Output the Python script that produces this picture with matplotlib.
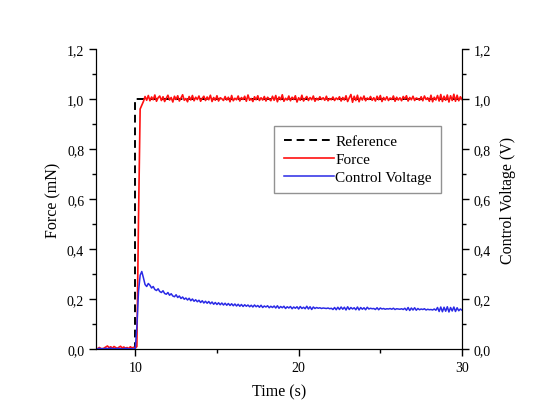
import numpy as np
import matplotlib
matplotlib.use("Agg")
import matplotlib.pyplot as plt
from matplotlib.ticker import MultipleLocator, FuncFormatter

plt.rcParams['font.family'] = ['Liberation Serif', 'DejaVu Serif']

time = np.round(np.arange(7.6, 30.0001, 0.1), 2)

ref_t = [7.6, 10.0, 10.0, 30.0]
ref_v = [0.0, 0.0, 1.0, 1.0]

force = [
    0.003, 0.001, 0.006, 0.002, 0.000, 0.004, 0.008, 0.012, 0.005, 0.009,
    0.003, 0.010, 0.006, 0.002, 0.007, 0.011, 0.004, 0.008, 0.003, 0.006,
    0.002, 0.009, 0.004, 0.007, 0.003, 0.010,
    0.52, 0.96, 0.975,
    0.990, 1.010, 0.995, 1.014, 0.993, 1.008, 0.997, 1.016, 0.991, 1.005,
    1.012, 0.994, 1.009, 0.990, 1.003, 1.015, 0.996, 1.006, 0.988, 1.011,
    0.998, 1.013, 0.992, 1.004, 1.017, 0.995, 1.002, 0.989, 1.010, 0.996,
    1.014, 0.993, 1.007, 0.998, 1.012, 0.991, 1.003, 1.011, 0.994, 1.008,
    0.997, 1.015, 0.990, 1.006, 0.995, 1.013, 0.992, 1.005, 1.001, 0.994,
    1.010, 0.996, 1.007, 0.989, 1.014, 0.993, 1.003, 0.997, 1.012, 0.992,
    1.006, 0.998, 1.011, 0.991, 1.016, 0.995, 1.002, 0.990, 1.009, 0.997,
    1.013, 0.994, 1.005, 0.996, 1.010, 0.992, 1.007, 1.000, 0.993, 1.011,
    0.995, 1.014, 0.989, 1.008, 0.997, 1.017, 0.991, 1.003, 0.996, 1.012,
    0.993, 1.007, 0.998, 1.013, 0.988, 1.005, 0.995, 1.015, 0.992, 1.002,
    1.010, 0.994, 1.006, 0.997, 1.012, 0.991, 1.003, 0.996, 1.009, 0.998,
    1.005, 0.995, 1.011, 0.993, 1.002, 0.997, 1.008, 0.994, 1.004, 0.998,
    1.009, 0.992, 1.006, 0.996, 1.013, 0.990, 1.005, 1.018, 0.987, 1.011,
    0.994, 1.015, 0.989, 1.007, 0.996, 1.012, 0.993, 1.004, 0.998, 1.010,
    0.995, 1.005, 0.992, 1.011, 0.997, 1.014, 0.990, 1.006, 0.996, 1.009,
    0.994, 1.004, 0.998, 1.012, 0.991, 1.007, 0.996, 1.005, 0.993, 1.010,
    1.000, 1.013, 0.992, 1.006, 0.997, 1.011, 0.994, 1.004, 1.001, 0.995,
    1.009, 0.993, 1.012, 0.998, 1.005, 0.991, 1.015, 0.989, 1.007, 0.996,
    1.014, 0.992, 1.018, 0.990, 1.011, 0.995, 1.016, 0.988, 1.013, 0.994,
    1.019, 0.991, 1.015, 0.993, 1.009, 0.998,
]

voltage = [
    0.002, 0.000, 0.003, 0.001, 0.002, 0.000, 0.003, 0.001, 0.002, 0.004,
    0.001, 0.002, 0.000, 0.003, 0.001, 0.002, 0.000, 0.001, 0.003, 0.002,
    0.000, 0.001, 0.002, 0.000, 0.001,
    0.09, 0.23, 0.295, 0.31,
    0.285, 0.258, 0.250, 0.262, 0.255, 0.244, 0.250, 0.238, 0.234, 0.241,
    0.230, 0.226, 0.233, 0.222, 0.219, 0.226, 0.215, 0.221, 0.212, 0.209,
    0.217, 0.206, 0.212, 0.202, 0.208, 0.199, 0.204, 0.196, 0.203, 0.193,
    0.200, 0.191, 0.197, 0.189, 0.195, 0.186, 0.193, 0.184, 0.191, 0.183,
    0.190, 0.181, 0.188, 0.179, 0.186, 0.178, 0.185, 0.177, 0.184, 0.176,
    0.183, 0.175, 0.182, 0.174, 0.181, 0.173, 0.180, 0.172, 0.179, 0.171,
    0.178, 0.170, 0.177, 0.171, 0.176, 0.169, 0.175, 0.168, 0.176, 0.169,
    0.174, 0.167, 0.175, 0.166, 0.172, 0.168, 0.173, 0.165, 0.171, 0.166,
    0.172, 0.164, 0.173, 0.163, 0.170, 0.165, 0.171, 0.162, 0.169, 0.164,
    0.170, 0.161, 0.168, 0.163, 0.169, 0.160, 0.170, 0.162, 0.167, 0.161,
    0.171, 0.160, 0.169, 0.158, 0.168, 0.162, 0.166, 0.163, 0.165, 0.162,
    0.164, 0.163, 0.162, 0.164, 0.161, 0.163, 0.158, 0.166, 0.157, 0.167,
    0.158, 0.168, 0.159, 0.167, 0.156, 0.169, 0.158, 0.166, 0.160, 0.165,
    0.157, 0.168, 0.156, 0.166, 0.159, 0.165, 0.157, 0.167, 0.160, 0.163,
    0.161, 0.162, 0.158, 0.165, 0.157, 0.164, 0.160, 0.162, 0.159, 0.161,
    0.160, 0.162, 0.159, 0.163, 0.158, 0.161, 0.160, 0.159, 0.161, 0.158,
    0.163, 0.155, 0.166, 0.154, 0.164, 0.156, 0.165, 0.155, 0.162, 0.157,
    0.160, 0.158, 0.161, 0.156, 0.159, 0.157, 0.158, 0.156, 0.160, 0.155,
    0.166, 0.150, 0.168, 0.149, 0.167, 0.151, 0.169, 0.148, 0.166, 0.152,
    0.168, 0.150, 0.165, 0.153, 0.160, 0.155,
]

x_ticks = [10, 20, 30]
y_ticks = [0.0, 0.2, 0.4, 0.6, 0.8, 1.0, 1.2]

fig = plt.figure(figsize=(5.41, 4.14), dpi=100)
ax = fig.add_axes([0.1775, 0.1546, 0.6765, 0.7246])
ax2 = ax.twinx()

l1, = ax.plot(ref_t, ref_v, color='black', linestyle=(0, (4, 2.5)), linewidth=1.4, label='Reference')
l2, = ax.plot(time, force, color='#ff1010', linewidth=1.2, label='Force')
l3, = ax2.plot(time, voltage, color='#2a2ae6', linewidth=1.1, label='Control Voltage')

comma = FuncFormatter(lambda v, p: f"{v:.1f}".replace('.', ','))
for a in (ax, ax2):
    a.set_xlim(7.6, 30)
    a.set_ylim(0, 1.2)
    a.set_yticks(y_ticks)
    a.yaxis.set_minor_locator(MultipleLocator(0.1))
    a.yaxis.set_major_formatter(comma)
    a.spines['top'].set_visible(False)
    a.tick_params(which='major', direction='out', length=5, width=1, labelsize=10)
    a.tick_params(which='minor', direction='out', length=3, width=1)
ax.set_xticks(x_ticks)
ax.xaxis.set_minor_locator(MultipleLocator(5))
ax.xaxis.set_major_formatter(FuncFormatter(lambda v, p: f"{int(v)}"))
ax2.yaxis.set_label_position('right')

ax.set_xlabel('Time (s)', fontsize=11.5, labelpad=7)
ax.set_ylabel('Force (mN)', fontsize=11.5, labelpad=4)
ax2.set_ylabel('Control Voltage (V)', fontsize=11.5, labelpad=6)

leg = ax2.legend(handles=[l1, l2, l3], loc='upper right', bbox_to_anchor=(0.943, 0.745),
                 fontsize=11, frameon=True, fancybox=False, edgecolor='#777777',
                 handlelength=3.3, handletextpad=0.1, labelspacing=0.27, borderpad=0.6,
                 borderaxespad=0.0)
leg.get_frame().set_linewidth(1.0)

fig.savefig('out.png', dpi=100)
